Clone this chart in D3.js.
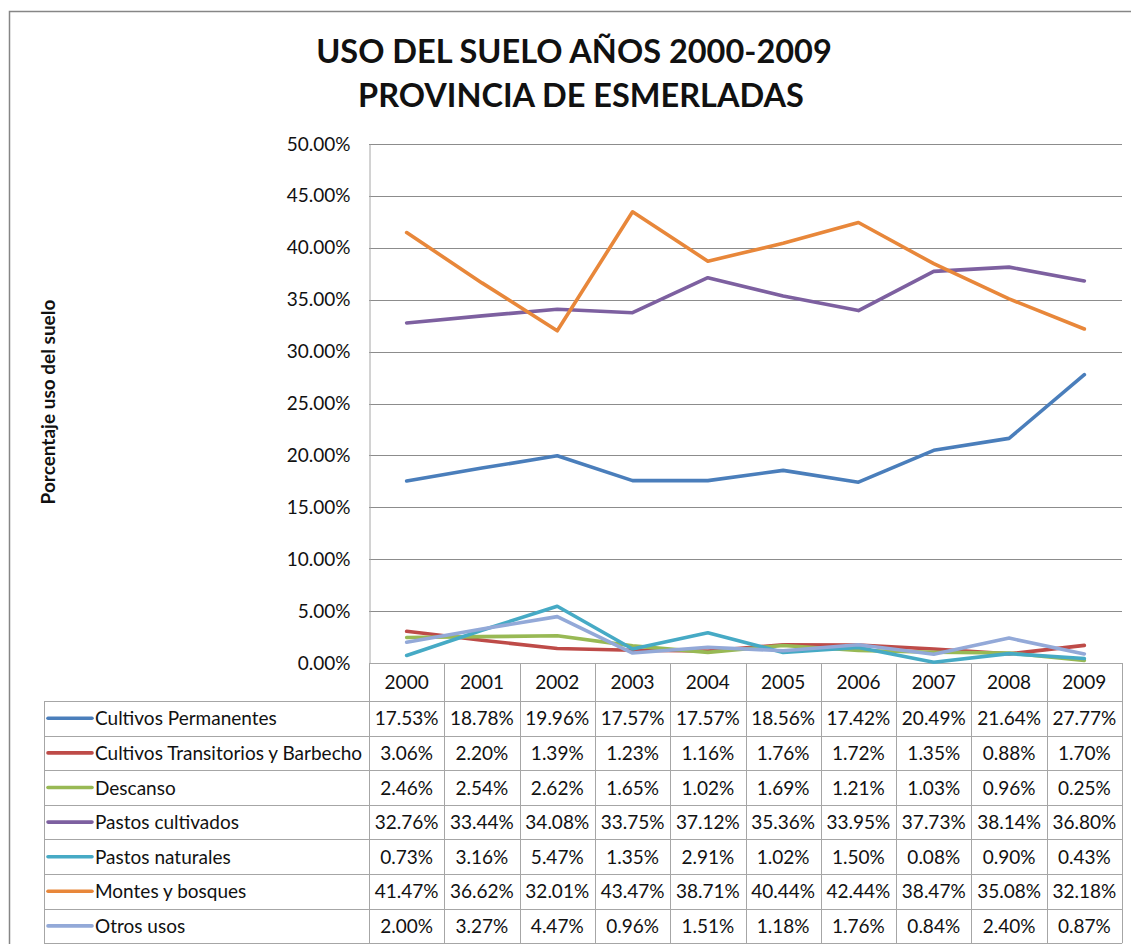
<!DOCTYPE html>
<html>
<head>
<meta charset="utf-8">
<script src="https://cdn.jsdelivr.net/npm/d3@7"></script>
<style>
  body { margin: 0; background: #fff; }
  svg text { font-family: Lato, "Open Sans", sans-serif; fill: #111; }
</style>
</head>
<body>
<div id="chart"></div>
<script>
const years = ["2000", "2001", "2002", "2003", "2004", "2005", "2006", "2007", "2008", "2009"];
const seriesNames = [
    "Cultivos Permanentes",
    "Cultivos Transitorios y Barbecho",
    "Descanso",
    "Pastos cultivados",
    "Pastos naturales",
    "Montes y bosques",
    "Otros usos"
];
const cultivosPermanentes = [17.53, 18.78, 19.96, 17.57, 17.57, 18.56, 17.42, 20.49, 21.64, 27.77];
const cultivosTransitorios = [3.06, 2.20, 1.39, 1.23, 1.16, 1.76, 1.72, 1.35, 0.88, 1.70];
const descanso = [2.46, 2.54, 2.62, 1.65, 1.02, 1.69, 1.21, 1.03, 0.96, 0.25];
const pastosCultivados = [32.76, 33.44, 34.08, 33.75, 37.12, 35.36, 33.95, 37.73, 38.14, 36.80];
const pastosNaturales = [0.73, 3.16, 5.47, 1.35, 2.91, 1.02, 1.50, 0.08, 0.90, 0.43];
const montesBosques = [41.47, 36.62, 32.01, 43.47, 38.71, 40.44, 42.44, 38.47, 35.08, 32.18];
const otrosUsos = [2.00, 3.27, 4.47, 0.96, 1.51, 1.18, 1.76, 0.84, 2.40, 0.87];
const yTicks = [0, 5, 10, 15, 20, 25, 30, 35, 40, 45, 50];

const allValues = [cultivosPermanentes, cultivosTransitorios, descanso, pastosCultivados,
    pastosNaturales, montesBosques, otrosUsos];
const colors = ["#4A7EBB", "#BE4B48", "#98B954", "#7D60A0", "#46AAC5", "#E8873A", "#93A9D8"];

const series = seriesNames.map((name, i) => ({ name, values: allValues[i], color: colors[i] }));

const width = 1131;
const height = 944;
const plot = { left: 369, right: 1122, top: 144, bottom: 663 };
const tableTop = 663;
const headerH = 38;
const rowH = 34.6;
const tableLeft = 44;
const gridColor = "#a6a6a6";
const fs = "19px";

const svg = d3.select("#chart")
    .append("svg")
    .attr("width", width)
    .attr("height", height);

// outer chart border
svg.append("rect")
    .attr("x", 9.5).attr("y", 11.5)
    .attr("width", 1200).attr("height", 1000)
    .attr("fill", "#fff")
    .attr("stroke", "#868686")
    .attr("stroke-width", 1.5);

// title
svg.append("text")
    .attr("x", 574).attr("y", 63)
    .attr("text-anchor", "middle")
    .style("font-size", "32.5px").style("font-weight", "bold")
    .text("USO DEL SUELO AÑOS 2000-2009");
svg.append("text")
    .attr("x", 581).attr("y", 107)
    .attr("text-anchor", "middle")
    .style("font-size", "32.5px").style("font-weight", "bold")
    .text("PROVINCIA DE ESMERLADAS");

const x = d3.scaleBand()
    .domain(years)
    .range([plot.left, plot.right]);

const y = d3.scaleLinear()
    .domain([0, 50])
    .range([plot.bottom, plot.top]);

// gridlines
svg.append("g")
    .selectAll("line")
    .data(yTicks)
    .join("line")
    .attr("x1", plot.left).attr("x2", plot.right)
    .attr("y1", d => Math.round(y(d)) + 0.5)
    .attr("y2", d => Math.round(y(d)) + 0.5)
    .attr("stroke", d => d === 0 ? gridColor : "#8c8c8c")
    .attr("stroke-width", 1);

// y axis
const yAxis = d3.axisLeft(y)
    .tickValues(yTicks)
    .tickSize(0)
    .tickPadding(19)
    .tickFormat(d => d.toFixed(2) + "%");

svg.append("g")
    .attr("transform", `translate(${plot.left + 0.5},0)`)
    .call(yAxis)
    .call(g => g.select(".domain").attr("stroke", gridColor))
    .call(g => g.selectAll("text")
        .style("font-size", fs)
        .style("font-family", "Lato, sans-serif")
        .attr("fill", "#111"));

svg.append("text")
    .attr("transform", "translate(55,402) rotate(-90)")
    .attr("text-anchor", "middle")
    .style("font-size", "19px").style("font-weight", "bold")
    .text("Porcentaje uso del suelo");

// lines
const line = d3.line()
    .x((d, i) => x(years[i]) + x.bandwidth() / 2)
    .y(d => y(d));

svg.append("g")
    .selectAll("path")
    .data(series)
    .join("path")
    .attr("d", d => line(d.values))
    .attr("fill", "none")
    .attr("stroke", d => d.color)
    .attr("stroke-width", 3.6)
    .attr("stroke-linejoin", "round")
    .attr("stroke-linecap", "round");

// data table
const table = svg.append("g");
const tableBottom = tableTop + headerH + rowH * series.length;

// horizontal lines
const rowLines = d3.range(series.length + 1).map(i => tableTop + headerH + i * rowH);
table.selectAll("line.h")
    .data(rowLines)
    .join("line")
    .attr("class", "h")
    .attr("x1", tableLeft).attr("x2", plot.right)
    .attr("y1", d => Math.round(d) + 0.5).attr("y2", d => Math.round(d) + 0.5)
    .attr("stroke", gridColor);

// vertical lines
const colLines = years.map(yr => x(yr)).concat([plot.right]);
table.selectAll("line.v")
    .data(colLines)
    .join("line")
    .attr("class", "v")
    .attr("x1", d => Math.round(d) + 0.5).attr("x2", d => Math.round(d) + 0.5)
    .attr("y1", tableTop).attr("y2", tableBottom)
    .attr("stroke", gridColor);

table.append("line")
    .attr("x1", tableLeft + 0.5).attr("x2", tableLeft + 0.5)
    .attr("y1", tableTop + headerH).attr("y2", tableBottom)
    .attr("stroke", gridColor);

// header years
table.selectAll("text.year")
    .data(years)
    .join("text")
    .attr("class", "year")
    .attr("x", d => x(d) + x.bandwidth() / 2)
    .attr("y", tableTop + headerH / 2 + 7)
    .attr("text-anchor", "middle")
    .style("font-size", fs)
    .text(d => d);

// rows
const rows = table.selectAll("g.row")
    .data(series)
    .join("g")
    .attr("class", "row")
    .attr("transform", (d, i) => `translate(0,${tableTop + headerH + i * rowH + rowH / 2})`);

rows.append("line")
    .attr("x1", 48).attr("x2", 92)
    .attr("y1", 0).attr("y2", 0)
    .attr("stroke", d => d.color)
    .attr("stroke-width", 3.6)
    .attr("stroke-linecap", "round");

rows.append("text")
    .attr("x", 95)
    .attr("y", 7)
    .style("font-size", fs)
    .text(d => d.name);

rows.selectAll("text.val")
    .data(d => d.values)
    .join("text")
    .attr("class", "val")
    .attr("x", (d, i) => x(years[i]) + x.bandwidth() / 2)
    .attr("y", 7)
    .attr("text-anchor", "middle")
    .style("font-size", fs)
    .text(d => d.toFixed(2) + "%");
</script>
</body>
</html>
